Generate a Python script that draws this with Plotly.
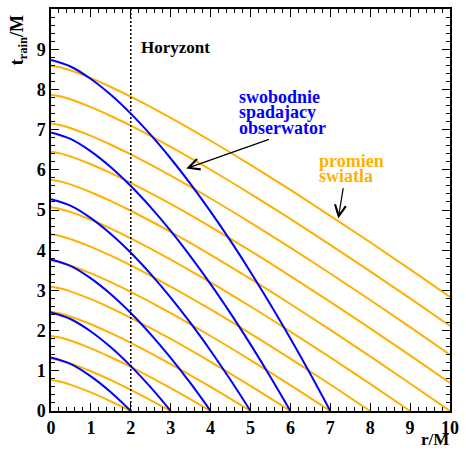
import plotly.graph_objects as go

# ---- data: radial samples (r/M) ----
ray_r = [0, 0.25, 0.5, 1, 1.5, 2, 3, 4, 5, 6, 7, 8, 9, 10]
# light rays (t_rain/M along ray_r), labelled by where they cross t=0 (r0)
ray_r0 = [2, 3, 4, 5, 6, 7, 8, 9, 10, 11, 12, 13, 14]
ray_t = [
    [0.773, 0.726, 0.651, 0.462, 0.241, 0.0],
    [1.300, 1.253, 1.178, 0.989, 0.768, 0.527, 0.0],
    [1.869, 1.822, 1.747, 1.558, 1.337, 1.096, 0.569, 0.0],
    [2.468, 2.422, 2.346, 2.158, 1.937, 1.696, 1.169, 0.600, 0.0],
    [3.092, 3.045, 2.970, 2.781, 2.561, 2.319, 1.792, 1.223, 0.624, 0.0],
    [3.735, 3.688, 3.613, 3.424, 3.204, 2.962, 2.435, 1.866, 1.267, 0.643, 0.0],
    [4.394, 4.348, 4.273, 4.084, 3.863, 3.622, 3.095, 2.526, 1.926, 1.302, 0.659, 0.0],
    [5.068, 5.021, 4.946, 4.757, 4.537, 4.295, 3.768, 3.199, 2.599, 1.976, 1.333, 0.673, 0.0],
    [5.753, 5.706, 5.631, 5.442, 5.222, 4.981, 4.454, 3.885, 3.285, 2.661, 2.018, 1.359, 0.685, 0.0],
    [6.449, 6.403, 6.327, 6.139, 5.918, 5.677, 5.150, 4.581, 3.981, 3.357, 2.714, 2.055, 1.382, 0.696],
    [7.155, 7.108, 7.033, 6.844, 6.624, 6.382, 5.855, 5.286, 4.687, 4.063, 3.420, 2.761, 2.087, 1.402],
    [7.869, 7.822, 7.747, 7.558, 7.338, 7.097, 6.570, 6.001, 5.401, 4.777, 4.134, 3.475, 2.801, 2.116],
    [8.591, 8.545, 8.469, 8.280, 8.060, 7.819, 7.292, 6.723, 6.123, 5.499, 4.856, 4.197, 3.524, 2.838],
]

# free-falling observers (t_rain/M along fall_r), labelled by r at t=0
fall_r = [0, 0.5, 1, 1.5, 2, 2.5, 3, 3.5, 4, 4.5, 5, 5.5, 6, 6.5, 7]
fall_r0 = [2, 3, 4, 5, 6, 7]
fall_t = [
    [1.333, 1.167, 0.862, 0.467, 0.0],
    [2.449, 2.283, 1.978, 1.583, 1.116, 0.586, 0.0],
    [3.771, 3.605, 3.300, 2.905, 2.438, 1.908, 1.322, 0.685, 0.0],
    [5.270, 5.104, 4.799, 4.404, 3.937, 3.407, 2.821, 2.184, 1.499, 0.770, 0.0],
    [6.928, 6.762, 6.457, 6.062, 5.595, 5.065, 4.479, 3.841, 3.157, 2.428, 1.658, 0.848, 0.0],
    [8.731, 8.564, 8.259, 7.865, 7.397, 6.867, 6.281, 5.644, 4.959, 4.231, 3.460, 2.650, 1.802, 0.919, 0.0],
]

horizon_r = 2
x_ticks = list(range(0, 11))
y_ticks = list(range(0, 10))

observer_lines = ["swobodnie", "spadajacy", "obserwator"]
ray_lines = ["promien", "swiatla"]

ORANGE = "#ffb000"
BLUE = "#0000ff"
FONT = "'Liberation Serif', 'Times New Roman', 'DejaVu Serif', serif"

fig = go.Figure()

for r0, ts in zip(ray_r0, ray_t):
    fig.add_trace(go.Scatter(x=ray_r[:len(ts)], y=ts, mode="lines",
                             line=dict(color=ORANGE, width=2, shape="spline"),
                             hoverinfo="skip", showlegend=False))

for r0, ts in zip(fall_r0, fall_t):
    fig.add_trace(go.Scatter(x=fall_r[:len(ts)], y=ts, mode="lines",
                             line=dict(color=BLUE, width=2, shape="spline"),
                             hoverinfo="skip", showlegend=False))

fig.add_vline(x=horizon_r, line=dict(color="black", width=1.5, dash="2px,2px"))

axis_common = dict(
    showgrid=False, zeroline=False, showline=True, linecolor="black",
    linewidth=1.5, mirror="allticks", ticks="inside", ticklen=8,
    tickwidth=1, tickcolor="black",
    tickfont=dict(family=FONT, size=18, color="black", weight="bold"),
    minor=dict(ticks="inside", ticklen=4, dtick=0.2, tickcolor="black",
               tickwidth=1, showgrid=False),
)

fig.update_xaxes(range=[0, 10], tickvals=x_ticks, **axis_common)
fig.update_yaxes(range=[0, 10], tickvals=y_ticks, **axis_common)

fig.add_annotation(text="t<sub>rain</sub>/M", xref="paper", yref="paper",
                   x=-0.082, y=0.99, xanchor="center", yanchor="top",
                   textangle=-90, showarrow=False,
                   font=dict(family=FONT, size=18, weight="bold", color="black"))
fig.add_annotation(text="r/M", xref="paper", yref="paper",
                   x=1.0, y=-0.0705, xanchor="right", yanchor="middle",
                   showarrow=False, borderpad=0,
                   font=dict(family=FONT, size=17, weight="bold", color="black"))

fig.add_annotation(text="Horyzont", x=2.2, y=9.05, xanchor="left",
                   yanchor="middle", showarrow=False,
                   font=dict(family=FONT, size=17, weight="bold", color="black"))
for txt, yy in zip(observer_lines, [7.80, 7.43, 7.05]):
    fig.add_annotation(text=txt, x=4.68, y=yy, xanchor="left",
                       yanchor="middle", showarrow=False, borderpad=0,
                       font=dict(family=FONT, size=18, weight="bold", color=BLUE))
for txt, yy in zip(ray_lines, [6.21, 5.84]):
    fig.add_annotation(text=txt, x=6.7, y=yy, xanchor="left",
                       yanchor="middle", showarrow=False, borderpad=0,
                       font=dict(family=FONT, size=18, weight="bold", color=ORANGE))

fig.add_annotation(x=3.39, y=6.03, ax=5.5, ay=6.77, xref="x", yref="y",
                   axref="x", ayref="y", text="", showarrow=True,
                   arrowhead=5, arrowsize=1.8, arrowwidth=1.2,
                   arrowcolor="black")
fig.add_annotation(x=7.2, y=4.79, ax=7.33, ay=5.58, xref="x", yref="y",
                   axref="x", ayref="y", text="", showarrow=True,
                   arrowhead=5, arrowsize=1.8, arrowwidth=1.2,
                   arrowcolor="black")

fig.update_layout(
    width=466, height=450,
    margin=dict(l=51, r=11, t=7, b=39),
    paper_bgcolor="white", plot_bgcolor="white",
    showlegend=False,
    font=dict(family=FONT),
)

fig.write_html("out.html")
